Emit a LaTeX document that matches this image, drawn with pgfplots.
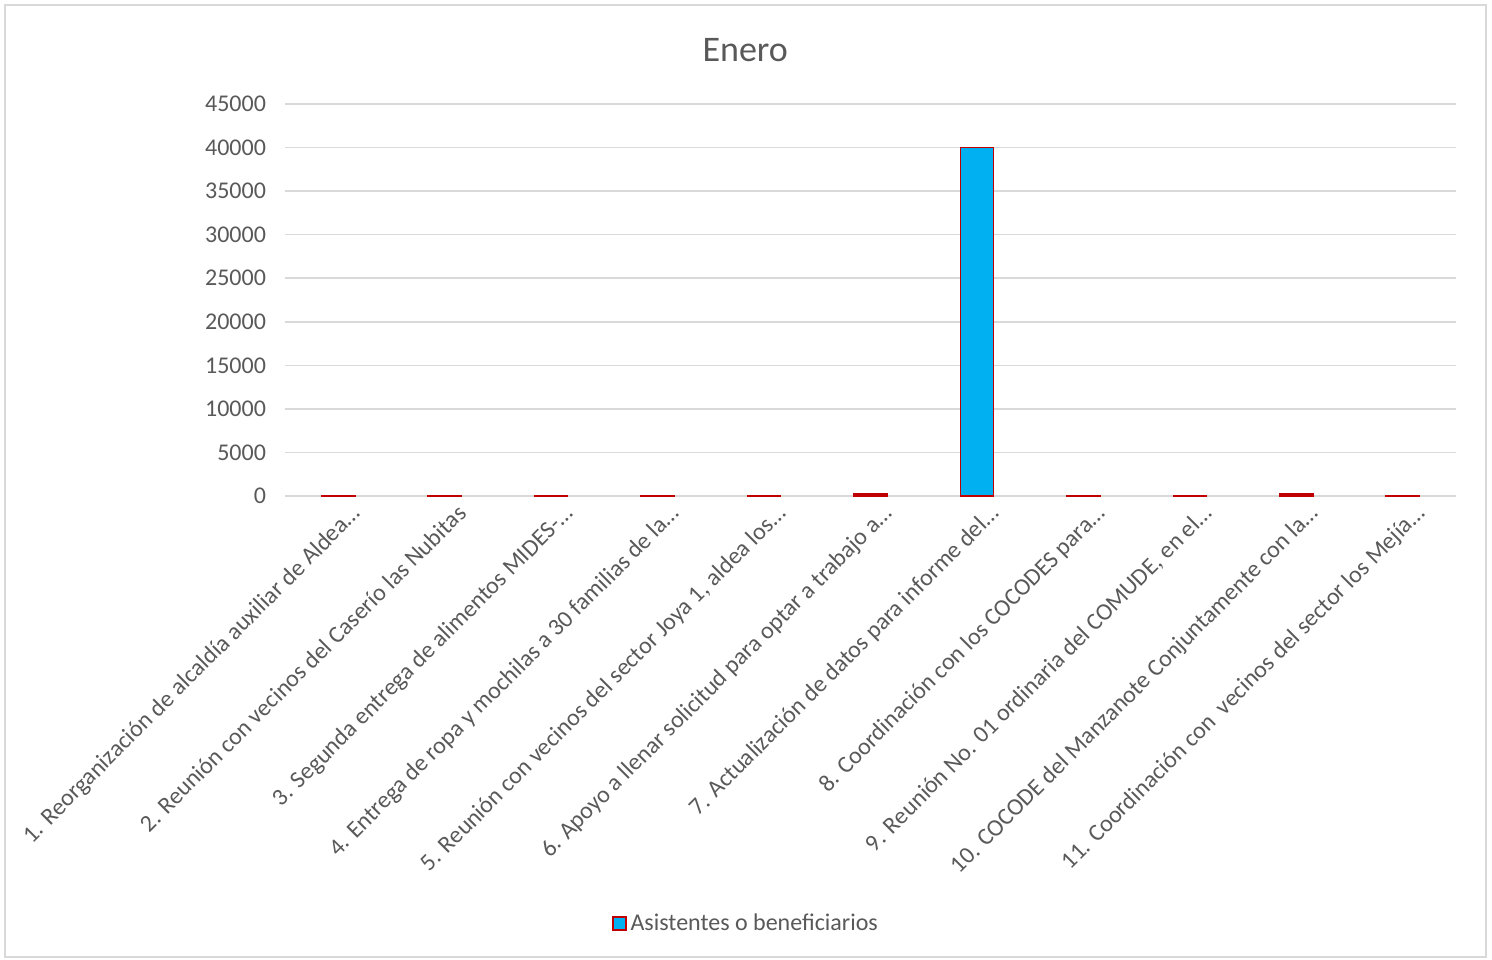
\documentclass[border=0pt]{standalone}
\usepackage{fontspec}
\setmainfont{Carlito}
\usepackage{pgfplots}
\pgfplotsset{compat=1.18}
\definecolor{txt}{HTML}{595959}
\definecolor{barblue}{HTML}{00B0F0}
\definecolor{barred}{HTML}{C00000}
\definecolor{gridc}{HTML}{D9D9D9}
\begin{document}
\begin{tikzpicture}
\useasboundingbox (-142.5pt,-231.5pt) rectangle (603.5pt,248pt);
\draw[gridc, line width=1pt] (-140pt,-230.5pt) rectangle (600.5pt,245.5pt);
\begin{axis}[
  scale only axis, width=585.5pt, height=196pt,
  ymin=0, ymax=45000, ytick={0,5000,...,45000},
  scaled y ticks=false,
  xmin=-0.5, xmax=10.5, xtick={0,...,10},
  xticklabels={
    {1. Reorganización de alcaldía auxiliar de Aldea…},
    {2. Reunión con vecinos del Caserío las Nubitas},
    {3. Segunda entrega de alimentos MIDES-…},
    {4. Entrega de ropa y mochilas a 30 familias de la…},
    {5. Reunión con vecinos del sector Joya 1, aldea los…},
    {6. Apoyo a llenar solicitud para optar a trabajo a…},
    {7. Actualización de datos para informe del…},
    {8. Coordinación con los COCODES para…},
    {9. Reunión No. 01 ordinaria del COMUDE, en el…},
    {10. COCODE del Manzanote Conjuntamente con la…},
    {11. Coordinación con~ vecinos del sector los Mejía…}},
  ybar, bar width=16.5pt,
  axis line style={draw=none},
  ymajorgrids, grid style={gridc, line width=0.75pt},
  major tick length=0pt,
  /pgf/number format/assume math mode=true,
  /pgf/number format/1000 sep={},
  yticklabel style={font=\fontsize{12}{14}\selectfont, text=txt, xshift=-6pt},
  xticklabel style={rotate=45, anchor=north east, font=\fontsize{12}{14}\selectfont, text=txt, xshift=5pt, yshift=-3pt},
  title={Enero},
  title style={at={(axis description cs:0.393,1.107)}, anchor=center, font=\fontsize{18}{20}\selectfont, text=txt},
  legend style={at={(axis description cs:0.3945,-1.09)}, anchor=center, draw=none, font=\fontsize{12}{14}\selectfont, text=txt, inner sep=1pt},
  legend image code/.code={\draw[#1, line width=0.75pt] (0pt,-3.25pt) rectangle (6.5pt,3.25pt);},
]
\addplot[fill=barblue, draw=barred, line width=0.8pt] coordinates {
  (0,30) (1,25) (2,80) (3,30) (4,30) (5,200) (6,40000) (7,30) (8,30) (9,200) (10,30)};
\legend{Asistentes o beneficiarios}
\end{axis}
\end{tikzpicture}
\end{document}
